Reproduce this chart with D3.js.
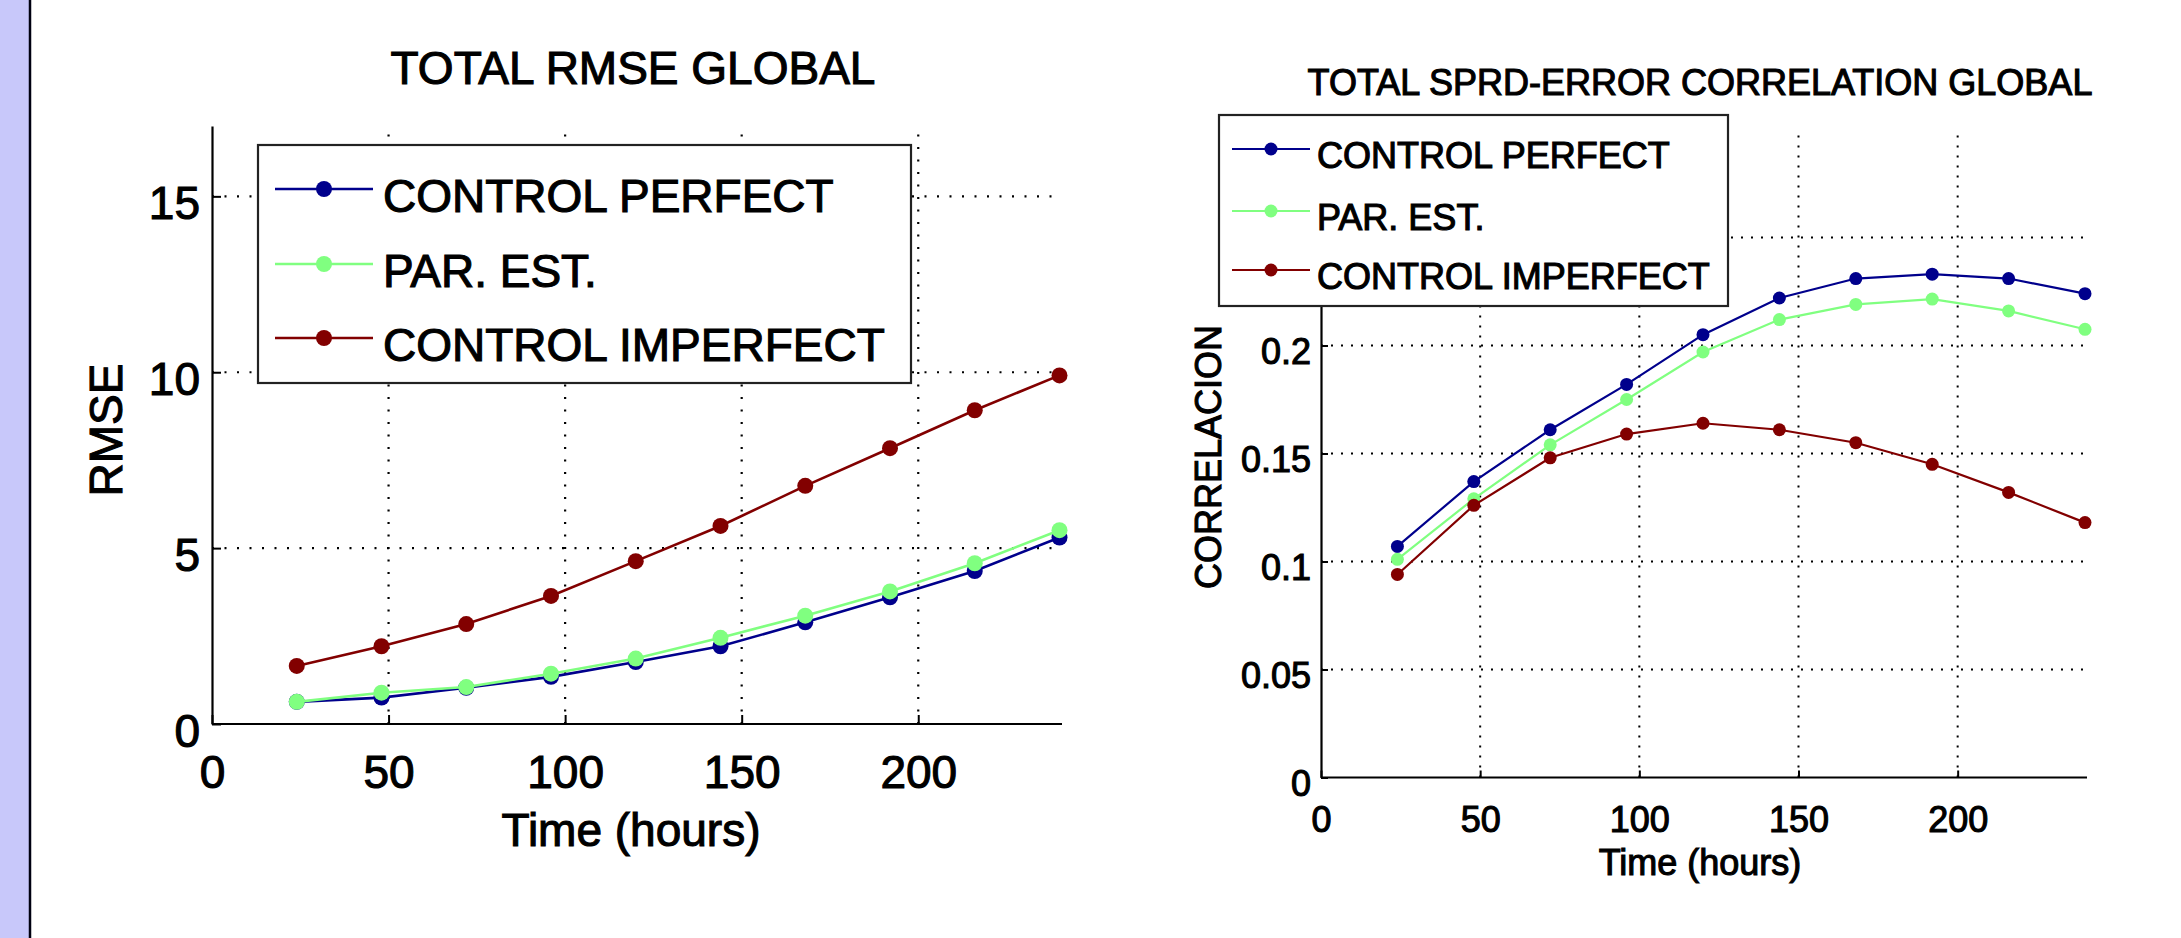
<!DOCTYPE html>
<html>
<head>
<meta charset="utf-8">
<script src="https://cdn.jsdelivr.net/npm/d3@7"></script>
<style>
  body { margin: 0; background: #fff; }
  svg text { font-family: "Liberation Sans", Arial, Helvetica, sans-serif; fill: #000; stroke: #000; stroke-width: 1.1px; }
</style>
</head>
<body>
<div id="chart"></div>
<script>
// forecast lead times (hours)
const hours = [24, 48, 72, 96, 120, 144, 168, 192, 216, 240];

// RMSE panel
const rmsePerfect   = [0.63, 0.75, 1.03, 1.34, 1.76, 2.21, 2.89, 3.60, 4.35, 5.30];
const rmseParEst    = [0.63, 0.89, 1.05, 1.43, 1.86, 2.45, 3.08, 3.77, 4.57, 5.51];
const rmseImperfect = [1.65, 2.21, 2.84, 3.64, 4.63, 5.63, 6.77, 7.84, 8.92, 9.91];

// spread-error correlation panel
const corrPerfect   = [0.107, 0.137, 0.161, 0.182, 0.205, 0.222, 0.231, 0.233, 0.231, 0.224];
const corrParEst    = [0.101, 0.129, 0.154, 0.175, 0.197, 0.212, 0.219, 0.2215, 0.216, 0.2075];
const corrImperfect = [0.094, 0.126, 0.148, 0.159, 0.164, 0.161, 0.155, 0.145, 0.132, 0.118];

const seriesNames = ['CONTROL PERFECT', 'PAR. EST.', 'CONTROL IMPERFECT'];
const seriesColors = ['#00008c', '#80ff80', '#820000'];

const xTicks = [0, 50, 100, 150, 200];
const rmseTicks = [0, 5, 10, 15];
const corrTicks = [0, 0.05, 0.1, 0.15, 0.2, 0.25, 0.3];

const W = 2181, H = 938;
const svg = d3.select('#chart').append('svg')
  .attr('width', W).attr('height', H);

svg.append('rect').attr('width', W).attr('height', H).attr('fill', '#fff');

// lavender strip on the left edge
svg.append('rect').attr('x', 0).attr('y', 0).attr('width', 29).attr('height', H).attr('fill', '#c8c8fa');
svg.append('line').attr('x1', 30).attr('x2', 30).attr('y1', 0).attr('y2', H)
  .attr('stroke', '#000010').attr('stroke-width', 2.5);

function drawPanel(cfg) {
  const g = svg.append('g');
  const x = d3.scaleLinear().domain([0, 240]).range(cfg.xRange);
  const y = d3.scaleLinear().domain(cfg.yDomain).range(cfg.yRange);

  // dotted grid
  const grid = g.append('g')
    .attr('stroke', '#000')
    .attr('stroke-width', cfg.dotW)
    .attr('stroke-dasharray', cfg.dash);
  grid.selectAll('.gx').data(xTicks.filter(d => d > 0))
    .enter().append('line')
    .attr('x1', d => x(d)).attr('x2', d => x(d))
    .attr('y1', cfg.yRange[0]).attr('y2', cfg.yRange[1]);
  grid.selectAll('.gy').data(cfg.gridY)
    .enter().append('line')
    .attr('y1', d => y(d)).attr('y2', d => y(d))
    .attr('x1', cfg.xRange[0]).attr('x2', cfg.xEnd);

  // axes with inward ticks
  const xAxis = g.append('g')
    .attr('transform', `translate(0,${cfg.yRange[0]})`)
    .call(d3.axisBottom(x).tickValues(xTicks).tickSizeInner(-cfg.tick).tickSizeOuter(0).tickFormat(d3.format('d')));
  xAxis.select('.domain').attr('d', `M${cfg.xRange[0]},0H${cfg.xEnd}`);
  xAxis.selectAll('text').attr('y', cfg.xLabOff).attr('dy', null)
    .style('font-size', cfg.fs + 'px');

  const yAxis = g.append('g')
    .attr('transform', `translate(${cfg.xRange[0]},0)`)
    .call(d3.axisLeft(y).tickValues(cfg.yTicks).tickSizeInner(-cfg.tick).tickSizeOuter(0)
      .tickFormat(d => String(+d.toFixed(2))));
  yAxis.selectAll('text').attr('x', -cfg.yLabGap).attr('dy', null).attr('y', cfg.yLabOff)
    .style('font-size', cfg.fs + 'px');

  [xAxis, yAxis].forEach(a => {
    a.attr('font-family', null).attr('font-size', null);
    a.select('.domain').attr('stroke', '#000').attr('stroke-width', 2.2);
    a.selectAll('.tick line').attr('stroke', '#000').attr('stroke-width', 2);
  });

  // series
  const line = d3.line().x(d => x(d[0])).y(d => y(d[1]));
  cfg.series.forEach((vals, i) => {
    const pts = hours.map((h, k) => [h, vals[k]]);
    g.append('path').datum(pts)
      .attr('d', line).attr('fill', 'none')
      .attr('stroke', seriesColors[i]).attr('stroke-width', cfg.lw);
    g.selectAll(null).data(pts).enter().append('circle')
      .attr('cx', d => x(d[0])).attr('cy', d => y(d[1]))
      .attr('r', cfg.mr).attr('fill', seriesColors[i]);
  });

  // titles and axis labels
  g.append('text').attr('x', cfg.titleX).attr('y', cfg.titleY)
    .attr('text-anchor', 'middle').style('font-size', cfg.fs + 'px').text(cfg.title);
  g.append('text').attr('x', cfg.xlabX).attr('y', cfg.xlabY)
    .attr('text-anchor', 'middle').style('font-size', cfg.fs + 'px').text('Time (hours)');
  g.append('text').attr('transform', `translate(${cfg.ylabX},${cfg.ylabY}) rotate(-90)`)
    .attr('text-anchor', 'middle').style('font-size', cfg.fs + 'px').text(cfg.ylab);

  // legend
  const L = cfg.legend;
  const lg = g.append('g');
  lg.append('rect').attr('x', L.x0).attr('y', L.y0)
    .attr('width', L.x1 - L.x0).attr('height', L.y1 - L.y0)
    .attr('fill', '#fff').attr('stroke', '#222').attr('stroke-width', 2.2);
  seriesNames.forEach((name, i) => {
    const ry = L.rows[i];
    lg.append('line').attr('x1', L.lx0).attr('x2', L.lx1).attr('y1', ry).attr('y2', ry)
      .attr('stroke', seriesColors[i]).attr('stroke-width', cfg.lw);
    lg.append('circle').attr('cx', (L.lx0 + L.lx1) / 2).attr('cy', ry)
      .attr('r', cfg.mr).attr('fill', seriesColors[i]);
    lg.append('text').attr('x', L.tx).attr('y', ry + L.base)
      .style('font-size', cfg.fs + 'px').text(name);
  });
}

drawPanel({
  xRange: [212, 1059.5], xEnd: 1062,
  yDomain: [0, 17], yRange: [724, 126],
  yTicks: rmseTicks, gridY: [5, 10, 15],
  dash: '2 10.5', dotW: 2.2, tick: 9,
  fs: 46, lw: 2.6, mr: 8,
  xLabOff: 64, yLabGap: 12, yLabOff: 22,
  series: [rmsePerfect, rmseParEst, rmseImperfect],
  title: 'TOTAL RMSE GLOBAL', titleX: 633, titleY: 84,
  xlabX: 631, xlabY: 846,
  ylab: 'RMSE', ylabX: 122, ylabY: 430,
  legend: { x0: 258, x1: 911, y0: 145, y1: 383, rows: [189, 264, 338],
            lx0: 275, lx1: 373, tx: 383, base: 23 }
});

drawPanel({
  xRange: [1321, 2085], xEnd: 2087,
  yDomain: [0, 0.3], yRange: [777.5, 129.5],
  yTicks: corrTicks, gridY: [0.05, 0.1, 0.15, 0.2, 0.25],
  dash: '2 8', dotW: 2, tick: 7,
  fs: 36, lw: 2.2, mr: 6.5,
  xLabOff: 54, yLabGap: 10, yLabOff: 18,
  series: [corrPerfect, corrParEst, corrImperfect],
  title: 'TOTAL SPRD-ERROR CORRELATION GLOBAL', titleX: 1700, titleY: 95,
  xlabX: 1700, xlabY: 875,
  ylab: 'CORRELACION', ylabX: 1221, ylabY: 457,
  legend: { x0: 1219, x1: 1728, y0: 115, y1: 306, rows: [149, 211, 270],
            lx0: 1232, lx1: 1310, tx: 1317, base: 19 }
});
</script>
</body>
</html>
